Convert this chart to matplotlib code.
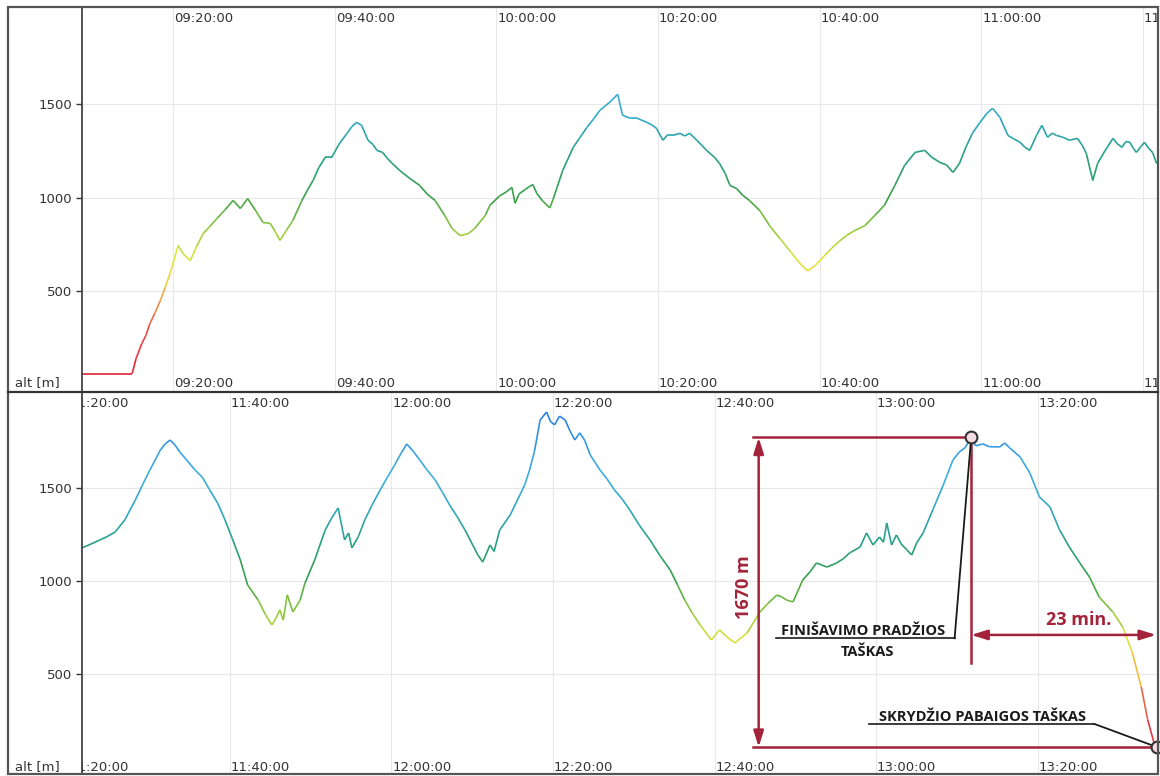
import numpy as np
import matplotlib
matplotlib.use("Agg")
import matplotlib.pyplot as plt
from matplotlib.collections import LineCollection
from matplotlib.colors import LinearSegmentedColormap, Normalize
from matplotlib.patches import Rectangle
from matplotlib.lines import Line2D

plt.rcParams["font.family"] = ["DejaVu Sans"]

# flight log: time in minutes after 09:00, altitude in metres
top_minutes = [8.7, 14.9, 15.4, 16.1, 16.6, 17.1, 17.7, 18.4, 19.0, 19.6, 20.6, 21.2, 22.1, 22.9,
               23.7, 24.5, 25.4, 26.4, 27.4, 28.3, 29.2, 30.2, 31.1, 32.0, 32.6, 33.2, 34.0, 34.8,
               35.9, 36.6, 37.3, 38.0, 38.8, 39.6, 40.5, 41.5, 42.1, 42.7, 43.3, 44.1, 44.7, 45.2,
               45.9, 46.5, 47.1, 48.0, 49.2, 50.5, 51.4, 52.4, 53.6, 54.5, 55.5, 56.5, 57.3, 58.6,
               59.2, 60.4, 61.2, 61.9, 62.3, 62.8, 63.6, 64.1, 64.5, 65.0, 65.7, 66.6, 67.0, 67.5,
               68.2, 69.5, 70.3, 71.2, 72.0, 72.8, 74.0, 75.0, 75.6, 76.5, 77.4, 78.6, 79.2, 79.8,
               80.6, 81.1, 81.8, 82.7, 83.3, 83.9, 84.8, 86.0, 87.0, 87.6, 88.3, 88.9, 89.7, 90.5,
               91.3, 92.6, 93.8, 95.1, 96.3, 97.5, 98.5, 99.4, 100.6, 101.5, 102.5, 103.4, 104.3,
               105.6, 106.8, 108.0, 109.3, 110.5, 111.8, 113.0, 113.9, 114.9, 115.7, 116.5, 117.3,
               118.1, 118.9, 119.8, 120.7, 121.4, 122.3, 123.3, 124.0, 124.8, 125.4, 126.0, 126.8,
               127.5, 128.2, 128.8, 129.3, 130.1, 130.9, 131.9, 132.5, 133.0, 133.8, 134.4, 135.3,
               136.3, 136.8, 137.4, 137.9, 138.4, 138.8, 139.2, 139.7, 140.2, 140.7, 141.2, 141.7]
top_alt = [58, 58, 140, 219, 262, 326, 380, 449, 520, 594, 744, 700, 663, 740,
           808, 845, 888, 935, 985, 942, 995, 930, 867, 862, 820, 771, 825, 878,
           983, 1040, 1092, 1160, 1215, 1215, 1285, 1344, 1380, 1403, 1387, 1307, 1285, 1253,
           1242, 1210, 1183, 1146, 1105, 1065, 1020, 985, 904, 835, 797, 807, 835, 904,
           960, 1010, 1030, 1055, 970, 1020, 1045, 1060, 1070, 1022, 983, 945, 990, 1055,
           1146, 1269, 1320, 1376, 1420, 1467, 1510, 1553, 1441, 1425, 1425, 1403, 1390, 1371,
           1307, 1333, 1333, 1344, 1330, 1344, 1307, 1253, 1215, 1183, 1130, 1065, 1049, 1012,
           985, 930, 850, 780, 716, 651, 608, 635, 689, 730, 769, 800, 823,
           850, 904, 958, 1065, 1172, 1242, 1253, 1215, 1188, 1175, 1135, 1183,
           1270, 1344, 1400, 1451, 1478, 1430, 1333, 1315, 1296, 1270, 1253, 1330,
           1387, 1323, 1345, 1333, 1323, 1307, 1317, 1280, 1237, 1092, 1183, 1250,
           1317, 1290, 1269, 1300, 1296, 1265, 1242, 1270, 1296, 1265, 1242, 1183]

bottom_minutes = [141.7, 142.8, 143.9, 144.8, 145.8, 147.0, 148.3, 149.2, 150.1, 151.4, 152.0, 152.6,
                  153.2, 153.8, 155.7, 156.6, 157.5, 158.5, 159.4, 160.3, 161.3, 162.2, 163.5, 164.4,
                  165.2, 165.7, 166.2, 166.6, 167.1, 167.8, 168.7, 169.3, 170.5, 171.8, 172.6, 173.4,
                  174.2, 174.7, 175.1, 175.9, 176.7, 177.6, 178.6, 179.5, 180.4, 181.2, 181.9, 182.7,
                  183.5, 184.4, 185.4, 186.3, 187.2, 188.1, 189.1, 190.7, 191.3, 192.2, 192.7, 193.4,
                  194.7, 195.9, 196.5, 197.1, 197.7, 198.4, 199.2, 199.7, 200.2, 200.8, 201.5, 202.1,
                  202.7, 203.3, 203.9, 204.6, 205.8, 206.7, 207.6, 208.6, 209.5, 210.7, 212.0, 213.2,
                  214.5, 215.4, 216.3, 217.2, 218.2, 219.6, 220.6, 221.5, 222.5, 224.0, 225.6, 226.6,
                  227.7, 228.3, 228.9, 229.7, 230.9, 231.8, 232.6, 233.9, 235.1, 235.9, 236.7, 238.0,
                  238.8, 239.6, 240.4, 240.9, 241.3, 241.9, 242.5, 243.1, 243.8, 244.4, 245.0, 245.8,
                  247.0, 248.2, 249.5, 250.3, 251.0, 251.75, 252.3, 253.2, 254.0, 255.3, 255.9, 256.5,
                  257.8, 259.0, 260.2, 260.8, 261.5, 262.7, 263.9, 265.2, 266.4, 267.6, 269.3, 270.5,
                  271.7, 272.8, 273.6, 274.45, 274.75]
bottom_alt = [1179, 1200, 1222, 1240, 1265, 1330, 1438, 1520, 1599, 1707, 1740, 1761,
              1735, 1697, 1599, 1560, 1492, 1420, 1330, 1230, 1114, 979, 898, 820,
              764, 800, 845, 790, 926, 834, 898, 990, 1114, 1276, 1340, 1395,
              1222, 1260, 1179, 1240, 1330, 1410, 1492, 1560, 1627, 1690, 1740, 1700,
              1654, 1600, 1546, 1480, 1411, 1350, 1276, 1141, 1103, 1195, 1160, 1276,
              1357, 1465, 1520, 1600, 1700, 1869, 1912, 1860, 1843, 1890, 1869, 1810,
              1761, 1800, 1761, 1681, 1600, 1550, 1492, 1440, 1384, 1300, 1222, 1140,
              1060, 980, 898, 830, 764, 683, 737, 700, 667, 720, 833, 880,
              925, 915, 898, 888, 1006, 1050, 1098, 1076, 1098, 1120, 1152, 1184,
              1260, 1195, 1238, 1210, 1314, 1195, 1249, 1200, 1168, 1141, 1206, 1260,
              1384, 1508, 1654, 1697, 1720, 1775, 1730, 1740, 1725, 1724, 1745, 1719,
              1670, 1584, 1454, 1430, 1400, 1276, 1184, 1098, 1022, 914, 833, 753,
              613, 430, 252, 117, 105]

# finish approach: start point, landing point and the figures written on the chart
finish_start = (251.75, 1775)
flight_end = (274.75, 105)
height_text = "1670 m"
duration_text = "23 min."

W, H = 1160, 776
red = "#a3243a"
ink = "#333333"

cmap = LinearSegmentedColormap.from_list("alt", [
    (0.00, "#e01830"), (0.15, "#e8504a"), (0.27, "#f0c840"), (0.33, "#e6e640"),
    (0.42, "#90c840"), (0.50, "#3aa048"), (0.60, "#28a080"), (0.70, "#30a8c0"),
    (0.80, "#40b0e0"), (1.00, "#2070e0")])
norm = Normalize(0, 2000)


def clock(m):
    m = int(round(m))
    return f"{9 + m // 60:02d}:{m % 60:02d}:00"


def panel(ax, minutes, alt, x0, x1, label_pos):
    for s in ["top", "right", "bottom"]:
        ax.spines[s].set_visible(False)
    ax.spines["left"].set_color("#444444")
    ax.spines["left"].set_linewidth(1.3)
    ax.set_yticks([500, 1000, 1500])
    ax.tick_params(axis="y", length=4, width=1, color=ink, pad=3, labelsize=9.5, labelcolor=ink)
    ticks = [t for t in range(0, 300, 20) if x0 - 20 < t < x1]
    ax.set_xticks(ticks)
    ax.tick_params(axis="x", length=0, labelbottom=False)
    ax.grid(True, color="#e8e8e8", lw=0.8)
    ax.set_axisbelow(True)
    ax.set_xlim(x0, x1)
    ax.set_ylim(-40, 2020)

    # time labels sit inside the plot, top and bottom, clipped at the edges
    for t in ticks:
        if t < x0 - 4:
            continue
        for yy in label_pos:
            ax.text(t + 0.1, yy, clock(t), transform=ax.get_xaxis_transform(),
                    ha="left", va="center", fontsize=9.5, color=ink, clip_on=True)

    pts = np.column_stack([minutes, alt])
    segs = np.stack([pts[:-1], pts[1:]], axis=1)
    a = np.asarray(alt, dtype=float)
    lc = LineCollection(segs, colors=cmap(norm((a[:-1] + a[1:]) / 2)), linewidths=1.2)
    ax.add_collection(lc)


fig = plt.figure(figsize=(W / 100, H / 100), dpi=100)
ax_top = fig.add_axes([82 / W, 1 - 392 / H, 1075 / W, 385 / H])
ax_bot = fig.add_axes([82 / W, 1 - 774 / H, 1075 / W, 382 / H])

panel(ax_top, top_minutes, top_alt, 8.7, 141.75, (0.971, 0.023))
panel(ax_bot, bottom_minutes, bottom_alt, 141.7, 274.75, (0.971, 0.018))

# frame and divider
fig.add_artist(Rectangle((8 / W, 1 - 774 / H), 1150 / W, 767 / H, transform=fig.transFigure,
                         fill=False, ec="#555555", lw=1.6))
fig.add_artist(Line2D([8 / W, 1158 / W], [1 - 392 / H] * 2, color="#333333", lw=1.6))
for py in (383, 767):
    fig.text(15 / W, 1 - py / H, "alt [m]", fontsize=9.5, color=ink, va="center", ha="left")

# finish annotations
t0, a0 = finish_start
t1, a1 = flight_end
left = 224.7
ax_bot.plot([left, t0], [a0, a0], color=red, lw=1.8)
ax_bot.plot([left, t1], [a1, a1], color=red, lw=1.8, clip_on=False)
arrow = dict(arrowstyle="<|-|>,head_length=0.8,head_width=0.25", color=red, lw=1.8,
             mutation_scale=12, shrinkA=0, shrinkB=0)
ax_bot.annotate("", xy=(225.45, a0), xytext=(225.45, a1), arrowprops=arrow)
ax_bot.text(223.6, (a0 + a1) / 2 + 30, height_text, rotation=90, ha="center", va="center",
            fontsize=13, color=red, fontweight="bold", family="Open Sans")
ax_bot.plot([t0, t0], [a0, 559], color=red, lw=1.8)
ax_bot.annotate("", xy=(t0, 710), xytext=(t1 - 0.1, 710), arrowprops=arrow, annotation_clip=False)
ax_bot.text((t0 + t1) / 2 + 1.8, 790, duration_text, ha="center", va="center",
            fontsize=13, color=red, fontweight="bold", family="Open Sans")

label_kw = dict(ha="center", va="center", fontsize=10.5, color="#1a1a1a",
                fontweight="bold", family="Open Sans")
ax_bot.text(238.4, 733, "FINIŠAVIMO PRADŽIOS", **label_kw)
ax_bot.text(238.9, 618, "TAŠKAS", **label_kw)
ax_bot.plot([227.6, 249.7], [692, 692], color="#1a1a1a", lw=1.2)
ax_bot.plot([249.7, t0], [692, a0], color="#1a1a1a", lw=1.3)

ax_bot.text(253.1, 270, "SKRYDŽIO PABAIGOS TAŠKAS", **label_kw)
ax_bot.plot([239.1, 267.0], [230, 230], color="#1a1a1a", lw=1.2)
ax_bot.plot([267.0, t1], [230, a1], color="#1a1a1a", lw=1.3, clip_on=False)

for t, a in (finish_start, flight_end):
    ax_bot.plot(t, a, "o", ms=8.5, mfc="#f3dce3", mec="#333333", mew=1.5, clip_on=False, zorder=5)

fig.savefig("out.png", dpi=100)
